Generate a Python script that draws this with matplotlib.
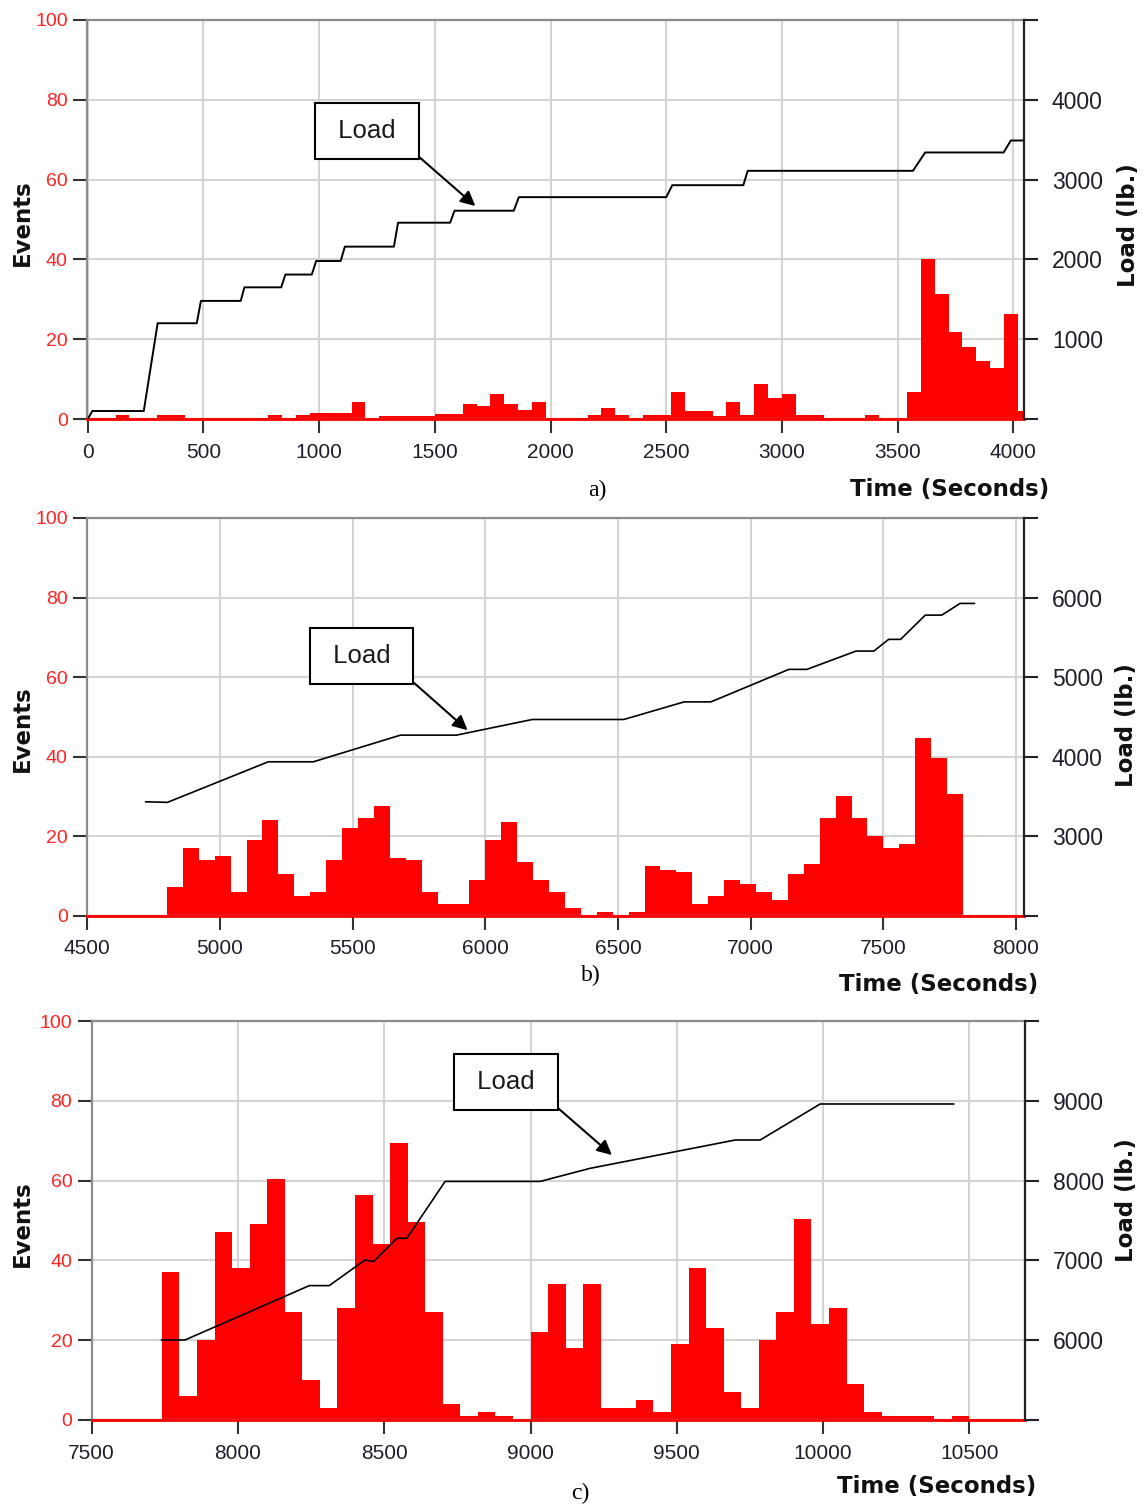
import numpy as np
import matplotlib
matplotlib.use("Agg")
import matplotlib.pyplot as plt

W, H = 1148, 1507
BIN = 60  # histogram bin width (seconds)

# ---- panel a) ----
a_start = 0
a_events = [0, 0, 1, 0, 0, 1, 1, 0, 0, 0, 0, 0, 0, 1, 0, 1, 1.5, 1.5, 1.5, 4.2,
            0, 0.7, 0.7, 0.7, 0.7, 1.2, 1.2, 3.7, 3.2, 6.2, 3.7, 2.2, 4.2, 0, 0, 0,
            1, 2.7, 1, 0, 1, 1, 6.7, 2, 2, 0.7, 4.2, 1, 8.7, 5.2, 6.2, 1, 1, 0,
            0, 0, 1, 0, 0, 6.7, 40.2, 31.3, 21.7, 18.1, 14.6, 12.7, 26.2, 2]
a_load_t = [0, 20, 242, 302, 471, 489, 661, 677, 836, 854, 968, 987, 1093, 1111,
            1323, 1341, 1566, 1585, 1841, 1863, 2500, 2526, 2833, 2852, 3566, 3619,
            3958, 3989, 4042]
a_load = [0, 100, 100, 1200, 1200, 1480, 1480, 1650, 1650, 1810, 1810, 1980, 1980,
          2160, 2160, 2460, 2460, 2610, 2610, 2780, 2780, 2930, 2930, 3110, 3110,
          3340, 3340, 3490, 3490]

# ---- panel b) ----
b_start = 4800
b_events = [7.1, 17, 14, 15, 6, 19, 24, 10.4, 5, 6, 14, 22, 24.5, 27.5, 14.5, 14,
            6, 3, 3, 9, 19, 23.6, 13.5, 9, 6, 2, 0, 1, 0.3, 1, 12.5, 11.5, 11, 3,
            5, 9, 8, 6, 4, 10.5, 13, 24.5, 30, 24.5, 20, 17, 18, 44.8, 39.6, 30.5]
b_load_t = [4720, 4802, 5182, 5352, 5680, 5891, 6177, 6522, 6749, 6850, 7144, 7212,
            7397, 7464, 7520, 7565, 7658, 7720, 7789, 7843]
b_load = [3432, 3425, 3935, 3935, 4270, 4270, 4467, 4467, 4688, 4688, 5097, 5097,
          5327, 5327, 5474, 5474, 5779, 5779, 5926, 5926]

# ---- panel c) ----
c_start = 7740
c_events = [37, 6, 20, 47, 38, 49, 60.5, 27, 10, 3, 28, 56.5, 44, 69.5, 49.5, 27,
            4, 1, 2, 1, 0.2, 22, 34, 18, 34, 3, 3, 5, 2, 19, 38, 23, 7, 3, 20,
            27, 50.5, 24, 28, 9, 2, 1, 1, 1, 0.2, 1]
c_load_t = [7739, 7819, 8244, 8312, 8434, 8463, 8543, 8577, 8708, 9033, 9204, 9700,
            9785, 9990, 10446]
c_load = [6003, 6003, 6684, 6684, 7005, 6985, 7277, 7277, 7990, 7990, 8154, 8509,
          8509, 8960, 8960]

event_ticks = [0, 20, 40, 60, 80, 100]

TICK_FONT = "Liberation Sans"
BOLD_FONT = "DejaVu Sans"
DARK = "#1e1e2a"


def add_axes_px(fig, x0, y0, x1, y1):
    return fig.add_axes([x0 / W, 1 - y1 / H, (x1 - x0) / W, (y1 - y0) / H])


def draw_panel(ax, start, events, load_t, load, xlim, xticks, load_lim, load_ticks,
               box_xy, tip_xy, lw_line):
    ax.set_axisbelow(True)
    left = start + BIN * np.arange(len(events))
    ax.bar(left, events, width=BIN, align="edge", color="#ff0000", linewidth=0, zorder=2)
    ax.axhline(0, color="#ff0000", lw=2, zorder=3, clip_on=False)
    ax.set_xlim(*xlim)
    ax.set_ylim(0, 100)
    ax.set_xticks(xticks)
    ax.set_yticks(event_ticks)
    ax.grid(True, color="#d4d4d4", lw=1.5)

    ax.tick_params(axis="y", length=10, width=1.5, color="#333333", pad=4,
                   labelcolor="#ff2222", labelsize=14)
    ax.tick_params(axis="x", length=10, width=1.5, color="#333333", pad=7,
                   labelcolor=DARK, labelsize=15)
    for lab in ax.get_xticklabels() + ax.get_yticklabels():
        lab.set_fontfamily(TICK_FONT)
    for s in ["top", "left", "bottom"]:
        ax.spines[s].set_color("#8c8c8c")
        ax.spines[s].set_linewidth(1.6)
    ax.spines["right"].set_visible(False)

    ax2 = ax.twinx()
    ax2.plot(load_t, load, color="black", lw=lw_line, zorder=4)
    ax2.set_ylim(*load_lim)
    ax2.set_yticks(load_ticks)
    ax2.set_yticklabels([""] + [str(v) for v in load_ticks[1:-1]] + [""])
    ax2.tick_params(axis="y", length=10, width=1.5, color="#222222", pad=10,
                    labelcolor=DARK, labelsize=16.5)
    for lab in ax2.get_yticklabels():
        lab.set_fontfamily(TICK_FONT)
    ax2.spines["right"].set_color("#222222")
    ax2.spines["right"].set_linewidth(1.6)
    for s in ["top", "left", "bottom"]:
        ax2.spines[s].set_visible(False)

    ax2.annotate(" Load ", xy=tip_xy, xytext=box_xy, ha="center", va="center",
                 fontsize=18.5, family=TICK_FONT, color="#1a1a1a",
                 bbox=dict(boxstyle="square,pad=0.62", fc="white", ec="black", lw=1.5),
                 arrowprops=dict(arrowstyle="-|>", color="black", lw=1.5,
                                 mutation_scale=22, relpos=(1, 0),
                                 shrinkA=0, shrinkB=0),
                 zorder=6)
    return ax2


def side_labels(fig, ev_y, load_x, load_y, time_x, time_y, tag, tag_x, tag_y):
    fig.text(22 / W, 1 - ev_y / H, "Events", rotation=90, ha="center", va="center",
             fontsize=16.5, fontweight="bold", family=BOLD_FONT, color="#111111")
    fig.text(load_x / W, 1 - load_y / H, "Load (lb.)", rotation=90, ha="center",
             va="center", fontsize=16.5, fontweight="bold", family=BOLD_FONT,
             color="#111111")
    fig.text(time_x / W, 1 - time_y / H, "Time (Seconds)", ha="right", va="center",
             fontsize=16.5, fontweight="bold", family=BOLD_FONT, color="#111111")
    fig.text(tag_x / W, 1 - tag_y / H, tag, ha="center", va="center", fontsize=17,
             family="Liberation Serif", color="black")


fig = plt.figure(figsize=(W / 100, H / 100), dpi=100)
fig.patch.set_facecolor("white")

ax_a = add_axes_px(fig, 87.3, 20, 1024, 419)
draw_panel(ax_a, a_start, a_events, a_load_t, a_load, (-2, 4046),
           np.arange(0, 4001, 500), (0, 5000), list(range(0, 5001, 1000)),
           (1208, 3609), (1675, 2669), 1.4)
side_labels(fig, 223, 1128, 225, 1049, 489, "a)", 597, 490)

ax_b = add_axes_px(fig, 87.3, 518, 1024, 915.7)
draw_panel(ax_b, b_start, b_events, b_load_t, b_load, (4500, 8030),
           np.arange(4500, 8001, 500), (2000, 7000), list(range(2000, 7001, 1000)),
           (5533, 5264), (5933, 4332), 1.2)
side_labels(fig, 729, 1127, 725, 1038, 984, "b)", 591, 975)

ax_c = add_axes_px(fig, 91.7, 1021, 1025, 1420)
draw_panel(ax_c, c_start, c_events, c_load_t, c_load, (7500, 10690),
           np.arange(7500, 10501, 500), (5000, 10000), list(range(5000, 10001, 1000)),
           (8916, 9235), (9278, 8321), 1.2)
side_labels(fig, 1224, 1127, 1200, 1036, 1487, "c)", 580, 1493)

fig.savefig("out.png", dpi=100)
